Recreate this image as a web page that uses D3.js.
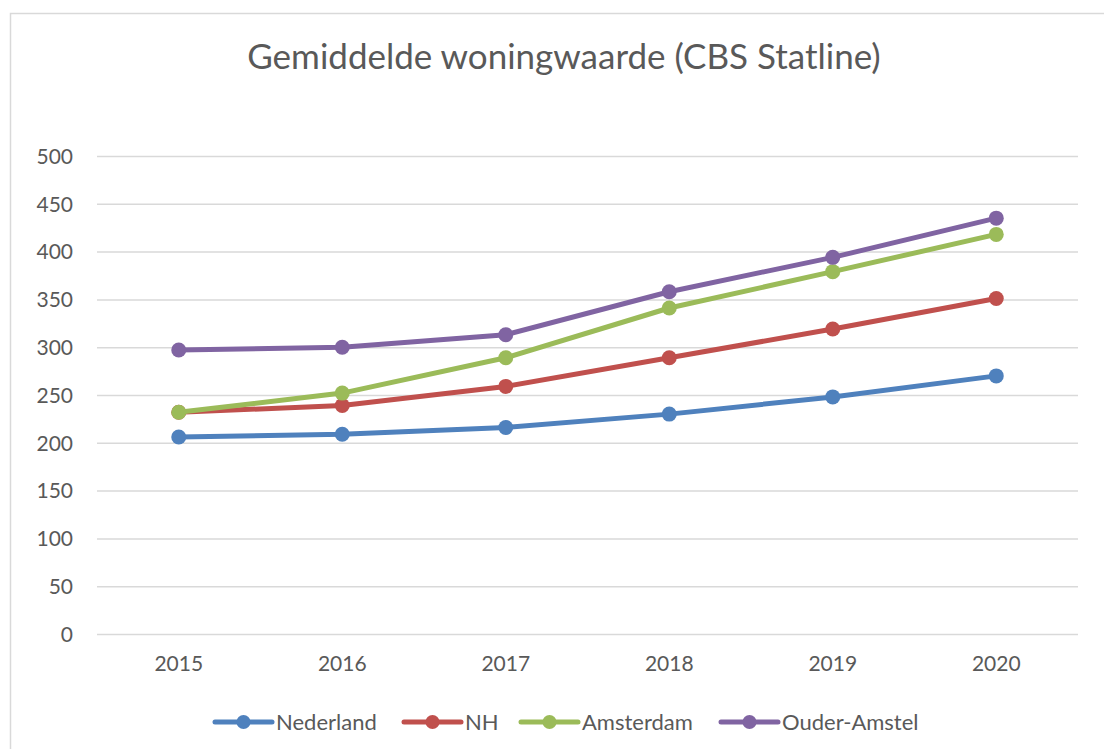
<!DOCTYPE html>
<html>
<head>
<meta charset="utf-8">
<script src="https://cdn.jsdelivr.net/npm/d3@7"></script>
<style>
  html, body { margin: 0; padding: 0; background: #fff; }
  svg { display: block; }
  text { font-family: Lato, "Open Sans", sans-serif; fill: #595959; }
</style>
</head>
<body>
<svg id="chart" width="1104" height="749"></svg>
<script>
const years = ["2015", "2016", "2017", "2018", "2019", "2020"];
const yTicks = [0, 50, 100, 150, 200, 250, 300, 350, 400, 450, 500];
const seriesNames = ["Nederland", "NH", "Amsterdam", "Ouder-Amstel"];
const nederland = [206, 209, 216, 230, 248, 270];
const nh = [232, 239, 259, 289, 319, 351];
const amsterdam = [232, 252, 289, 341, 379, 418];
const ouderAmstel = [297, 300, 313, 358, 394, 435];
const colors = ["#4f81bd", "#c0504d", "#9bbb59", "#8064a2"];
const title = "Gemiddelde woningwaarde (CBS Statline)";

const seriesData = [nederland, nh, amsterdam, ouderAmstel];

const svg = d3.select("#chart");
const plot = { left: 97, right: 1078, top: 156, bottom: 634 };

// outer chart border (extends past the visible area right/bottom)
svg.append("rect")
  .attr("x", 10.5).attr("y", 13.5)
  .attr("width", 1120).attr("height", 760)
  .attr("fill", "#fff").attr("stroke", "#d9d9d9").attr("stroke-width", 1.5);

const x = d3.scaleBand().domain(years).range([plot.left, plot.right]);
const y = d3.scaleLinear().domain([0, 500]).range([plot.bottom, plot.top]);
const cx = d => x(d) + x.bandwidth() / 2;

// title
svg.append("text")
  .attr("x", 564).attr("y", 69)
  .attr("text-anchor", "middle")
  .style("font-size", "35px")
  .text(title);

// gridlines + y labels
const yAxis = d3.axisLeft(y).tickValues(yTicks).tickSize(-(plot.right - plot.left)).tickPadding(24);
const gy = svg.append("g").attr("transform", `translate(${plot.left},0)`).call(yAxis);
gy.select(".domain").remove();
gy.selectAll(".tick line").attr("stroke", "#d9d9d9").attr("stroke-width", 1.5);
gy.selectAll(".tick text").style("font-size", "21px").attr("fill", "#595959").attr("dy", "0.35em");

// x axis labels
const xAxis = d3.axisBottom(x).tickSize(0).tickPadding(22);
const gx = svg.append("g").attr("transform", `translate(0,${plot.bottom})`).call(xAxis);
gx.select(".domain").remove();
gx.selectAll(".tick text").style("font-size", "21px").attr("fill", "#595959");

// lines
const line = d3.line().x((d, i) => cx(years[i])).y(d => y(d));
seriesData.forEach((vals, si) => {
  svg.append("path")
    .datum(vals)
    .attr("d", line)
    .attr("fill", "none")
    .attr("stroke", colors[si])
    .attr("stroke-width", 5)
    .attr("stroke-linejoin", "round")
    .attr("stroke-linecap", "round");
  svg.selectAll(null)
    .data(vals)
    .enter().append("circle")
    .attr("cx", (d, i) => cx(years[i]))
    .attr("cy", d => y(d))
    .attr("r", 7.5)
    .attr("fill", colors[si]);
});

// legend
const legendY = 722;
const legendX = [215, 404, 521, 721];
seriesNames.forEach((name, i) => {
  const g = svg.append("g").attr("transform", `translate(${legendX[i]},${legendY})`);
  g.append("line").attr("x1", 0).attr("x2", 57).attr("y1", 0).attr("y2", 0)
    .attr("stroke", colors[i]).attr("stroke-width", 5).attr("stroke-linecap", "round");
  g.append("circle").attr("cx", 28.5).attr("cy", 0).attr("r", 7).attr("fill", colors[i]);
  g.append("text").attr("x", 61).attr("y", 0).attr("dy", "0.35em")
    .style("font-size", "22px").text(name);
});
</script>
</body>
</html>
